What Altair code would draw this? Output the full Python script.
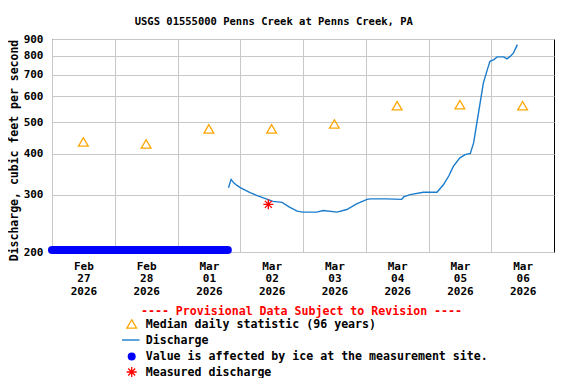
import altair as alt
import pandas as pd

FONT = "DejaVu Sans Mono"

title_text = "USGS 01555000 Penns Creek at Penns Creek, PA"
y_title = "Discharge, cubic feet per second"
provisional_text = "---- Provisional Data Subject to Revision ----"
legend_labels = [
    "Median daily statistic (96 years)",
    "Discharge",
    "Value is affected by ice at the measurement site.",
    "Measured discharge",
]

y_ticks = [200, 300, 400, 500, 600, 700, 800, 900]

median_times = [
    "2026-02-27T12:00:00", "2026-02-28T12:00:00", "2026-03-01T12:00:00",
    "2026-03-02T12:00:00", "2026-03-03T12:00:00", "2026-03-04T12:00:00",
    "2026-03-05T12:00:00", "2026-03-06T12:00:00",
]
median_values = [435, 429, 477, 477, 494, 562, 566, 562]

discharge_times = [
    "2026-03-01T19:30:00", "2026-03-01T20:30:00", "2026-03-01T21:30:00",
    "2026-03-01T22:45:00", "2026-03-02T00:00:00", "2026-03-02T03:45:00",
    "2026-03-02T06:30:00", "2026-03-02T12:30:00", "2026-03-02T16:00:00",
    "2026-03-02T19:00:00", "2026-03-02T21:45:00", "2026-03-03T00:00:00",
    "2026-03-03T05:15:00", "2026-03-03T07:45:00", "2026-03-03T13:00:00",
    "2026-03-03T16:45:00", "2026-03-03T20:30:00", "2026-03-04T00:30:00",
    "2026-03-04T01:45:00", "2026-03-04T08:00:00", "2026-03-04T13:45:00",
    "2026-03-04T14:30:00", "2026-03-04T17:00:00", "2026-03-04T22:00:00",
    "2026-03-05T03:15:00", "2026-03-05T05:45:00", "2026-03-05T07:45:00",
    "2026-03-05T09:30:00", "2026-03-05T12:00:00", "2026-03-05T14:00:00",
    "2026-03-05T16:00:00", "2026-03-05T17:15:00", "2026-03-05T18:30:00",
    "2026-03-05T19:45:00", "2026-03-05T21:00:00", "2026-03-05T22:30:00",
    "2026-03-05T23:30:00", "2026-03-06T01:00:00", "2026-03-06T02:15:00",
    "2026-03-06T04:45:00", "2026-03-06T06:00:00", "2026-03-06T07:15:00",
    "2026-03-06T08:30:00", "2026-03-06T10:00:00",
]
discharge_values = [
    315, 334, 326, 320, 315, 304, 298, 286, 284, 274, 267, 265, 265, 268, 265,
    270, 281, 290, 291, 291, 290, 295, 300, 305, 305, 322, 342, 366, 389, 398,
    401, 432, 498, 573, 660, 725, 769, 778, 793, 793, 782, 796, 816, 865,
]

ice_start = ["2026-02-27T00:00:00"]
ice_end = ["2026-03-01T19:15:00"]
ice_value = [203]

measured_times = ["2026-03-02T10:45:00"]
measured_values = [280]

ORANGE = "#ffa500"
LINE_BLUE = "#1a7ccc"
ICE_BLUE = "#0000ff"
RED = "#ff0000"
ASTERISK = "M-1,0L1,0M0,-1L0,1M-0.7,-0.7L0.7,0.7M-0.7,0.7L0.7,-0.7"

x_scale = alt.Scale(
    domain=[alt.DateTime(year=2026, month=2, date=27),
            alt.DateTime(year=2026, month=3, date=7)],
    nice=False,
)
y_scale = alt.Scale(type="log", domain=[200, 900], nice=False)

x_axis = alt.Axis(
    title=None,
    values=[alt.DateTime(year=2026, month=m, date=d)
            for m, d in [(2, 27), (2, 28), (3, 1), (3, 2), (3, 3), (3, 4), (3, 5), (3, 6)]],
    labelExpr="[timeFormat(datum.value, '%b'), timeFormat(datum.value, '%d'), timeFormat(datum.value, '%Y')]",
    labelOffset=31.4,
    labelFlush=False,
    labelOverlap=False,
    labelBound=False,
    labelAlign="center",
    labelBaseline="top",
    labelLineHeight=12.8,
    labelPadding=8,
    ticks=False,
    tickSize=0,
    domain=False,
    grid=True,
)
y_axis = alt.Axis(
    title=y_title,
    values=y_ticks,
    format="d",
    ticks=False,
    tickSize=0,
    labelPadding=9,
    domain=False,
    grid=True,
    titleX=-38,
    titleY=111,
    titleAngle=-90,
    titleAlign="center",
    titleBaseline="middle",
    titleFontSize=11.5,
)

median_df = pd.DataFrame({"t": median_times, "v": median_values})
dis_df = pd.DataFrame({"t": discharge_times, "v": discharge_values})
ice_df = pd.DataFrame({"t": ice_start, "t2": ice_end, "v": ice_value})
meas_df = pd.DataFrame({"t": measured_times, "v": measured_values})

medians = alt.Chart(median_df).mark_point(
    shape="triangle-up", filled=False, color=ORANGE, size=95, strokeWidth=1.3, opacity=1
).encode(
    x=alt.X("t:T", scale=x_scale, axis=x_axis),
    y=alt.Y("v:Q", scale=y_scale, axis=y_axis),
)

ice = alt.Chart(ice_df).mark_rule(
    color=ICE_BLUE, strokeWidth=8, strokeCap="round"
).encode(x="t:T", x2="t2:T", y="v:Q")

discharge = alt.Chart(dis_df).mark_line(
    color=LINE_BLUE, strokeWidth=1.4
).encode(x="t:T", y="v:Q")

measured = alt.Chart(meas_df).mark_point(
    shape=ASTERISK, filled=False, color=RED, size=100, strokeWidth=1.3, opacity=1
).encode(x="t:T", y="v:Q")

one = pd.DataFrame({"k": [0]})

def free_text(txt, x, y, color="black", align="left", size=11.6):
    return alt.Chart(one).mark_text(
        font=FONT, fontSize=size, fontWeight="bold", color=color,
        align=align, baseline="alphabetic"
    ).encode(x=alt.value(x), y=alt.value(y), text=alt.value(txt))

title = free_text(title_text, 221.8, -14.3, align="center", size=10.5)
prov = free_text(provisional_text, 249.5, 276, color=RED, align="center")
t1 = free_text(legend_labels[0], 93.7, 289)
t2 = free_text(legend_labels[1], 93.7, 305)
t3 = free_text(legend_labels[2], 93.7, 321.4)
t4 = free_text(legend_labels[3], 93.7, 337.4)

leg_tri = alt.Chart(one).mark_point(
    shape="triangle-up", filled=False, color=ORANGE, size=95, strokeWidth=1.3, opacity=1
).encode(x=alt.value(79.7), y=alt.value(285))
leg_line = alt.Chart(one).mark_rule(color=LINE_BLUE, strokeWidth=1.4).encode(
    x=alt.value(70), x2=alt.value(87.5), y=alt.value(301)
)
leg_dot = alt.Chart(one).mark_point(
    shape="circle", filled=True, color=ICE_BLUE, size=64, opacity=1
).encode(x=alt.value(79.7), y=alt.value(317.4))
leg_star = alt.Chart(one).mark_point(
    shape=ASTERISK, filled=False, color=RED, size=100, strokeWidth=1.3, opacity=1
).encode(x=alt.value(79.7), y=alt.value(333))

chart = alt.layer(
    medians, ice, discharge, measured,
    title, prov, t1, t2, t3, t4, leg_tri, leg_line, leg_dot, leg_star,
).properties(
    width=502,
    height=213,
    autosize=alt.AutoSizeParams(type="none"),
    padding={"left": 44, "top": 31, "right": 14, "bottom": 126},
).configure_view(
    stroke="black", strokeWidth=1
).configure_axis(
    labelFont=FONT, labelFontSize=11, labelFontWeight="bold", labelColor="black",
    titleFont=FONT, titleFontSize=11.5, titleFontWeight="bold", titleColor="black",
    gridColor="#c8c8c8", gridWidth=1,
)

chart.save("out.html", embed_options={"renderer": "svg", "actions": False})
